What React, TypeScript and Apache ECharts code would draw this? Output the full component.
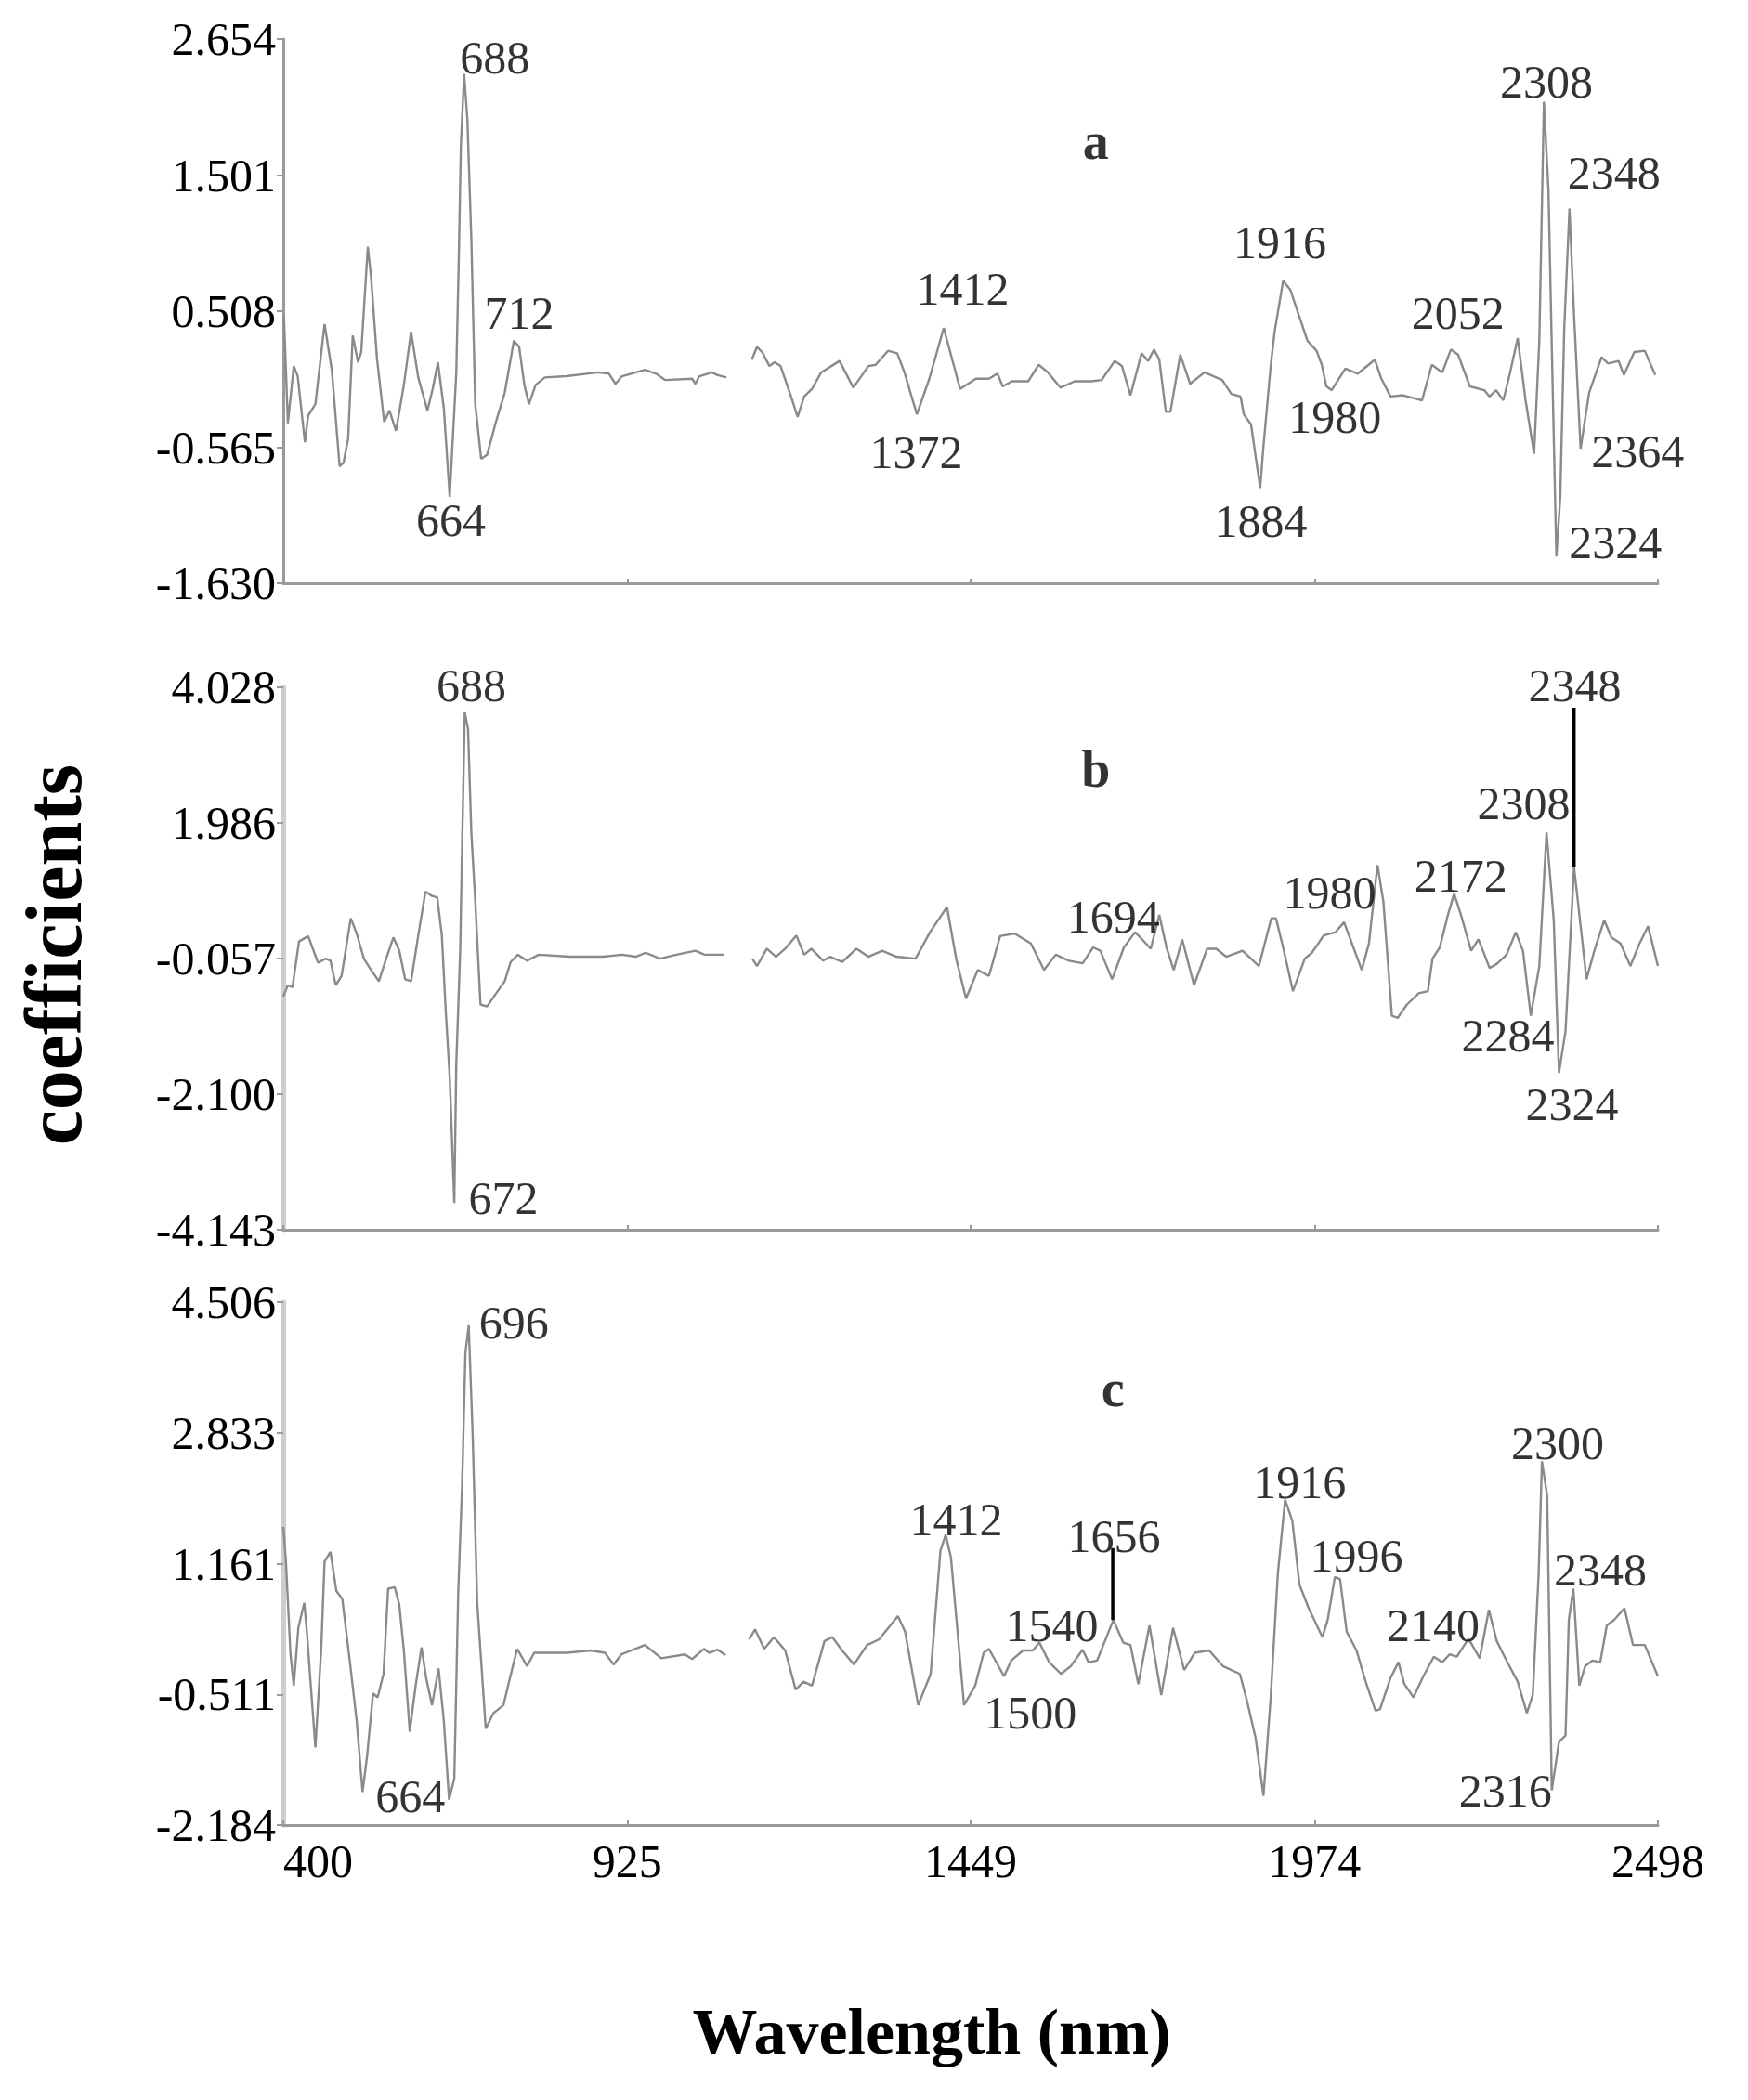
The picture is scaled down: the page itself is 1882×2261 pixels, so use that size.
import React, { useEffect, useRef } from "react";
import * as echarts from "echarts";

const FONT = '"Liberation Serif", "Times New Roman", serif';

// x axis (wavelength, nm)
const wavelengthTicks = [400, 925, 1449, 1974, 2498];
const wavelengthLabels = ["400", "925", "1449", "1974", "2498"];

// y axis tick labels (bottom -> top), ticks are evenly spaced
const aTickLabels = ["-1.630", "-0.565", "0.508", "1.501", "2.654"];
const bTickLabels = ["-4.143", "-2.100", "-0.057", "1.986", "4.028"];
const cTickLabels = ["-2.184", "-0.511", "1.161", "2.833", "4.506"];
const aRange = [-1.63, 2.654];
const bRange = [-4.143, 4.028];
const cRange = [-2.184, 4.506];

// panel a coefficients
const aLeft = [
  [401, 0.47], [407, -0.37], [416, 0.08], [422, 0.0], [433, -0.52], [438, -0.31], [449, -0.22], [463, 0.41],
  [474, 0.05], [486, -0.71], [492, -0.68], [499, -0.49], [506, 0.32], [514, 0.11], [519, 0.19], [529, 1.02],
  [534, 0.78], [543, 0.14], [554, -0.36], [562, -0.27], [572, -0.43], [584, -0.07], [595, 0.35], [606, -0.01],
  [620, -0.27], [628, -0.1], [636, 0.11], [645, -0.25], [654, -0.95], [664, 0.02], [668, 0.96], [671, 1.81],
  [676, 2.38], [681, 2.02], [687, 1.08], [693, -0.22], [702, -0.65], [711, -0.62], [724, -0.37], [738, -0.13],
  [752, 0.28], [760, 0.23], [768, -0.07], [775, -0.22], [785, -0.07], [799, -0.01], [832, 0.0], [881, 0.03],
  [897, 0.02], [907, -0.06], [917, 0.0], [952, 0.05], [969, 0.02], [983, -0.03], [1024, -0.02], [1029, -0.06],
  [1035, 0.0], [1054, 0.03], [1062, 0.01], [1076, -0.01],
];
const aRight = [
  [1115, 0.13], [1123, 0.23], [1131, 0.19], [1142, 0.08], [1150, 0.11], [1159, 0.08], [1175, -0.16], [1185, -0.32],
  [1195, -0.16], [1207, -0.1], [1221, 0.03], [1249, 0.12], [1270, -0.09], [1293, 0.08], [1304, 0.09], [1323, 0.2],
  [1337, 0.18], [1348, 0.03], [1367, -0.3], [1386, -0.02], [1408, 0.38], [1433, -0.1], [1457, -0.02], [1477, -0.02],
  [1490, 0.02], [1498, -0.08], [1512, -0.04], [1537, -0.04], [1553, 0.09], [1567, 0.03], [1586, -0.09], [1608, -0.04],
  [1633, -0.04], [1649, -0.03], [1669, 0.12], [1680, 0.08], [1693, -0.15], [1710, 0.18], [1720, 0.12], [1729, 0.21],
  [1737, 0.13], [1747, -0.28], [1754, -0.28], [1769, 0.17], [1784, -0.06], [1806, 0.03], [1833, -0.03], [1847, -0.14],
  [1861, -0.16], [1866, -0.3], [1877, -0.38], [1891, -0.88], [1896, -0.55], [1907, 0.08], [1913, 0.35], [1926, 0.75],
  [1937, 0.68], [1950, 0.48], [1963, 0.28], [1977, 0.2], [1985, 0.09], [1992, -0.08], [2000, -0.11], [2021, 0.06],
  [2040, 0.02], [2066, 0.13], [2076, -0.02], [2090, -0.16], [2109, -0.15], [2138, -0.19], [2153, 0.09], [2169, 0.03],
  [2182, 0.21], [2193, 0.17], [2211, -0.08], [2233, -0.11], [2241, -0.16], [2251, -0.11], [2262, -0.19], [2272, 0.02],
  [2284, 0.3], [2296, -0.19], [2309, -0.61], [2317, 0.28], [2324, 2.16], [2331, 1.46], [2335, 0.48], [2343, -1.42],
  [2349, -0.95], [2355, 0.37], [2363, 1.32], [2370, 0.48], [2380, -0.57], [2393, -0.13], [2412, 0.15], [2422, 0.1],
  [2438, 0.12], [2446, 0.01], [2462, 0.19], [2478, 0.2], [2494, 0.01],
];

// panel b coefficients
const bLeft = [
  [400, -0.63], [407, -0.46], [414, -0.49], [424, 0.2], [438, 0.28], [453, -0.12], [465, -0.06], [472, -0.09],
  [480, -0.46], [489, -0.32], [503, 0.55], [512, 0.32], [523, -0.06], [534, -0.23], [546, -0.4], [557, -0.06],
  [568, 0.26], [577, 0.06], [586, -0.37], [595, -0.4], [606, 0.29], [617, 0.95], [626, 0.89], [635, 0.86],
  [642, 0.29], [648, -0.86], [654, -1.84], [661, -3.74], [664, -1.66], [670, 0.06], [673, 1.67], [677, 3.65],
  [682, 3.4], [687, 1.84], [693, 0.81], [701, -0.75], [711, -0.78], [725, -0.58], [738, -0.4], [747, -0.11],
  [758, 0.0], [772, -0.09], [790, 0.0], [837, -0.03], [888, -0.03], [917, 0.0], [938, -0.03], [953, 0.03],
  [975, -0.06], [1000, 0.0], [1029, 0.06], [1043, 0.0], [1072, 0.0],
];
const bRight = [
  [1116, -0.06], [1123, -0.17], [1138, 0.09], [1152, -0.03], [1166, 0.09], [1183, 0.29], [1195, 0.0], [1206, 0.09],
  [1224, -0.09], [1235, -0.03], [1253, -0.11], [1275, 0.09], [1293, -0.03], [1314, 0.06], [1336, -0.03], [1365, -0.06],
  [1387, 0.34], [1413, 0.72], [1427, -0.06], [1442, -0.66], [1460, -0.23], [1477, -0.32], [1494, 0.28], [1516, 0.32],
  [1541, 0.17], [1561, -0.23], [1579, 0.0], [1599, -0.09], [1620, -0.13], [1636, 0.11], [1647, 0.06], [1665, -0.37],
  [1683, 0.11], [1700, 0.34], [1708, 0.26], [1724, 0.09], [1737, 0.6], [1748, 0.11], [1759, -0.23], [1772, 0.23],
  [1790, -0.46], [1810, 0.09], [1824, 0.09], [1839, -0.03], [1864, 0.06], [1889, -0.17], [1908, 0.55], [1915, 0.55],
  [1926, 0.11], [1941, -0.55], [1959, -0.06], [1970, 0.03], [1988, 0.29], [2006, 0.34], [2019, 0.49], [2031, 0.17],
  [2046, -0.23], [2057, 0.17], [2070, 1.35], [2079, 0.8], [2092, -0.92], [2101, -0.95], [2115, -0.75], [2133, -0.58],
  [2147, -0.55], [2154, -0.06], [2165, 0.11], [2177, 0.58], [2187, 0.92], [2198, 0.58], [2213, 0.06], [2224, 0.23],
  [2231, 0.06], [2241, -0.2], [2252, -0.14], [2267, 0.0], [2281, 0.34], [2292, 0.06], [2304, -0.92], [2317, -0.17],
  [2328, 1.84], [2339, 0.52], [2347, -1.78], [2357, -1.15], [2370, 1.32], [2383, 0.17], [2389, -0.37], [2401, 0.06],
  [2416, 0.52], [2427, 0.26], [2441, 0.17], [2456, -0.17], [2470, 0.17], [2483, 0.43], [2498, -0.17],
];

// panel c coefficients
const cLeft = [
  [400, 1.63], [404, 1.19], [411, 0.0], [416, -0.4], [423, 0.34], [432, 0.66], [436, 0.29], [442, -0.4],
  [449, -1.19], [458, 0.09], [463, 1.19], [472, 1.31], [481, 0.81], [490, 0.71], [501, -0.05], [512, -0.85],
  [521, -1.76], [528, -1.29], [537, -0.5], [544, -0.55], [553, -0.25], [560, 0.84], [570, 0.86], [577, 0.64],
  [584, 0.05], [593, -0.99], [602, -0.4], [611, 0.09], [618, -0.3], [627, -0.65], [637, -0.18], [645, -0.85],
  [653, -1.86], [661, -1.59], [667, 0.79], [673, 2.18], [678, 3.86], [683, 4.21], [689, 2.82], [696, 0.66],
  [709, -0.95], [721, -0.75], [736, -0.65], [746, -0.3], [757, 0.07], [772, -0.15], [783, 0.02], [833, 0.02],
  [869, 0.05], [891, 0.02], [904, -0.13], [916, 0.0], [952, 0.12], [977, -0.05], [1013, 0.0], [1024, -0.06],
  [1042, 0.07], [1050, 0.02], [1063, 0.06], [1075, -0.01],
];
const cRight = [
  [1111, 0.19], [1120, 0.32], [1134, 0.07], [1149, 0.22], [1166, 0.05], [1182, -0.45], [1194, -0.35], [1207, -0.4],
  [1226, 0.17], [1238, 0.22], [1253, 0.05], [1271, -0.13], [1291, 0.12], [1309, 0.19], [1338, 0.49], [1349, 0.29],
  [1369, -0.65], [1388, -0.25], [1403, 1.33], [1411, 1.53], [1419, 1.24], [1439, -0.65], [1456, -0.4], [1469, 0.02],
  [1477, 0.07], [1500, -0.28], [1511, -0.08], [1529, 0.05], [1544, 0.05], [1554, 0.15], [1569, -0.1], [1587, -0.25],
  [1602, -0.15], [1620, 0.06], [1629, -0.1], [1642, -0.08], [1667, 0.44], [1682, 0.15], [1693, 0.12], [1705, -0.38],
  [1722, 0.37], [1740, -0.52], [1758, 0.34], [1775, -0.2], [1791, 0.02], [1813, 0.05], [1834, -0.15], [1860, -0.25],
  [1871, -0.6], [1884, -1.07], [1896, -1.81], [1907, -0.55], [1918, 1.04], [1929, 1.98], [1940, 1.71], [1951, 0.89],
  [1965, 0.59], [1986, 0.22], [1994, 0.44], [2005, 0.99], [2013, 0.96], [2023, 0.29], [2038, 0.05], [2052, -0.35],
  [2067, -0.72], [2074, -0.7], [2090, -0.3], [2102, -0.1], [2111, -0.38], [2125, -0.55], [2140, -0.28], [2156, -0.03],
  [2169, -0.1], [2180, 0.0], [2191, -0.03], [2209, 0.2], [2226, -0.05], [2240, 0.57], [2252, 0.17], [2267, -0.08],
  [2284, -0.35], [2298, -0.75], [2307, -0.52], [2316, 1.04], [2321, 2.47], [2329, 2.03], [2336, -1.74], [2347, -1.12],
  [2357, -1.04], [2362, 0.44], [2369, 0.84], [2378, -0.4], [2387, -0.15], [2398, -0.08], [2410, -0.1], [2420, 0.37],
  [2431, 0.44], [2447, 0.59], [2460, 0.12], [2478, 0.12], [2498, -0.28],
];

// peak annotations: [wavelength, value, text]
const aPeaks = [
  [723, 2.51, "688"], [760, 0.5, "712"], [656, -1.13, "664"], [1437, 0.69, "1412"], [1366, -0.6, "1372"],
  [1921, 1.05, "1916"], [1892, -1.14, "1884"], [2005, -0.32, "1980"], [2193, 0.5, "2052"], [2328, 2.32, "2308"],
  [2431, 1.6, "2348"], [2467, -0.59, "2364"], [2433, -1.31, "2324"],
];
const bPeaks = [
  [687, 4.06, "688"], [736, -3.67, "672"], [1667, 0.57, "1694"], [1997, 0.93, "1980"], [2197, 1.19, "2172"],
  [2293, 2.28, "2308"], [2371, 4.06, "2348"], [2269, -1.22, "2284"], [2367, -2.25, "2324"],
];
const cPeaks = [
  [752, 4.25, "696"], [594, -1.81, "664"], [1427, 1.72, "1412"], [1540, -0.75, "1500"], [1573, 0.37, "1540"],
  [1668, 1.51, "1656"], [1951, 2.2, "1916"], [2038, 1.26, "1996"], [2155, 0.37, "2140"], [2345, 2.7, "2300"],
  [2410, 1.08, "2348"], [2265, -1.74, "2316"],
];
// panel letters: [wavelength, value, text]
const aLetter = [1640, 1.85, "a"];
const bLetter = [1640, 2.8, "b"];
const cLetter = [1666, 3.4, "c"];
// leader lines
const bLeader = [[2370, 1.32], [2370, 3.72]];
const cLeader = [[1666, 0.44], [1666, 1.36]];

function evenTicks(range: number[]) {
  const step = (range[1] - range[0]) / 4;
  return [0, 1, 2, 3, 4].map((i) => range[0] + i * step);
}

export default function App() {
  const ref = useRef<HTMLDivElement>(null);
  useEffect(() => {
    document.body.style.margin = "0";
    const chart = echarts.init(ref.current!, undefined, { renderer: "svg" });

    const panels = [
      { range: aRange, labels: aTickLabels, left: aLeft, right: aRight, peaks: aPeaks, letter: aLetter, leader: null, top: 42, height: 586, yColor: "#9a9a9a", yWidth: 3 },
      { range: bRange, labels: bTickLabels, left: bLeft, right: bRight, peaks: bPeaks, letter: bLetter, leader: bLeader, top: 740, height: 584, yColor: "#cdcdcd", yWidth: 5 },
      { range: cRange, labels: cTickLabels, left: cLeft, right: cRight, peaks: cPeaks, letter: cLetter, leader: cLeader, top: 1402, height: 563, yColor: "#cdcdcd", yWidth: 5 },
    ];

    const grid: any[] = [];
    const xAxis: any[] = [];
    const yAxis: any[] = [];
    const series: any[] = [];

    panels.forEach((p, i) => {
      grid.push({ left: 305, top: p.top, width: 1480, height: p.height });
      xAxis.push({
        type: "value",
        gridIndex: i,
        min: 400,
        max: 2498,
        axisLine: { show: true, onZero: false, lineStyle: { color: "#9a9a9a", width: 3 } },
        axisTick: { show: true, inside: true, length: 5, customValues: wavelengthTicks, lineStyle: { color: "#9a9a9a", width: 2 } },
        axisLabel: {
          show: i === 2,
          customValues: wavelengthTicks,
          formatter: (v: number) => {
            const idx = wavelengthTicks.findIndex((t) => Math.abs(t - v) < 1);
            return idx >= 0 ? wavelengthLabels[idx] : "";
          },
          fontFamily: FONT,
          fontSize: 50,
          color: "#000",
          margin: 14,
          alignMinLabel: "left",
        },
        splitLine: { show: false },
      });
      const ticks = evenTicks(p.range);
      yAxis.push({
        type: "value",
        gridIndex: i,
        min: p.range[0],
        max: p.range[1],
        axisLine: { show: true, lineStyle: { color: p.yColor, width: p.yWidth } },
        axisTick: { show: true, length: 7, customValues: ticks, lineStyle: { color: "#9a9a9a", width: 2 } },
        axisLabel: {
          customValues: ticks,
          formatter: (v: number) => {
            let best = 0;
            ticks.forEach((t, k) => {
              if (Math.abs(t - v) < Math.abs(ticks[best] - v)) best = k;
            });
            return p.labels[best];
          },
          fontFamily: FONT,
          fontSize: 50,
          color: "#000",
          margin: 8,
        },
        splitLine: { show: false },
      });
      [p.left, p.right].forEach((seg) => {
        series.push({
          type: "line",
          xAxisIndex: i,
          yAxisIndex: i,
          data: seg,
          symbol: "none",
          silent: true,
          clip: false,
          lineStyle: { color: "#8a8a8a", width: 2.4 },
          z: 2,
        });
      });
      if (p.leader) {
        series.push({
          type: "line",
          xAxisIndex: i,
          yAxisIndex: i,
          data: p.leader,
          symbol: "none",
          silent: true,
          clip: false,
          lineStyle: { color: "#000", width: 3.5 },
          z: 3,
        });
      }
      series.push({
        type: "scatter",
        xAxisIndex: i,
        yAxisIndex: i,
        symbolSize: 0,
        silent: true,
        clip: false,
        z: 5,
        data: [
          ...p.peaks.map((d) => ({ value: [d[0], d[1]], name: d[2] })),
          {
            value: [p.letter[0], p.letter[1]],
            name: p.letter[2],
            label: { fontWeight: "bold", fontSize: 56 },
          },
        ],
        label: {
          show: true,
          position: "inside",
          formatter: "{b}",
          fontFamily: FONT,
          fontSize: 50,
          color: "#000",
        },
      });
    });

    chart.setOption({
      animation: false,
      backgroundColor: "#ffffff",
      grid,
      xAxis,
      yAxis,
      series,
      graphic: [
        {
          type: "text",
          x: 58,
          y: 1028,
          rotation: Math.PI / 2,
          style: {
            text: "coefficients",
            fontFamily: FONT,
            fontWeight: "bold",
            fontSize: 86,
            fill: "#000",
            align: "center",
            verticalAlign: "middle",
          },
        },
        {
          type: "text",
          x: 1003,
          y: 2187,
          style: {
            text: "Wavelength (nm)",
            fontFamily: FONT,
            fontWeight: "bold",
            fontSize: 70,
            fill: "#000",
            align: "center",
            verticalAlign: "middle",
          },
        },
      ],
    });
    return () => chart.dispose();
  }, []);
  return <div ref={ref} style={{ width: 1882, height: 2261 }} />;
}
